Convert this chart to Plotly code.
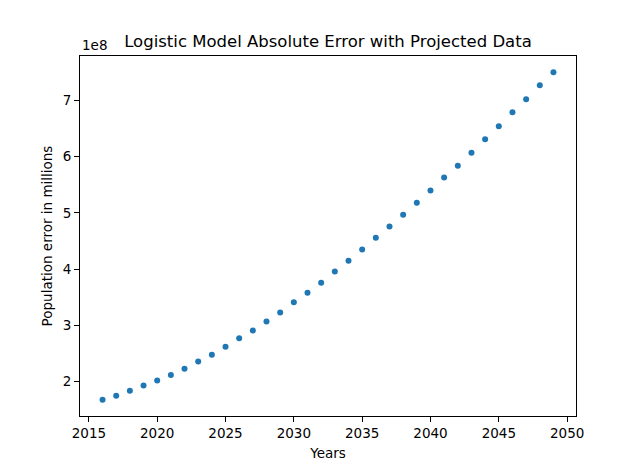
import plotly.graph_objects as go

years = list(range(2016, 2050))
abs_error = [1.68e8, 1.75e8, 1.84e8, 1.93e8, 2.02e8, 2.12e8, 2.23e8, 2.36e8, 2.48e8, 2.62e8,
             2.77e8, 2.91e8, 3.07e8, 3.23e8, 3.41e8, 3.58e8, 3.76e8, 3.96e8, 4.15e8, 4.35e8,
             4.56e8, 4.76e8, 4.97e8, 5.18e8, 5.40e8, 5.63e8, 5.84e8, 6.07e8, 6.31e8, 6.54e8,
             6.79e8, 7.02e8, 7.27e8, 7.50e8]
y_tick_vals = [2e8, 3e8, 4e8, 5e8, 6e8, 7e8]
y_tick_text = ["2", "3", "4", "5", "6", "7"]
x_tick_vals = [2015, 2020, 2025, 2030, 2035, 2040, 2045, 2050]

font = "DejaVu Sans"

fig = go.Figure(go.Scatter(
    x=years, y=abs_error, mode="markers",
    marker=dict(color="#1f77b4", size=6, line=dict(width=0)),
))

xr = [min(years) - 0.05 * (max(years) - min(years)), max(years) + 0.05 * (max(years) - min(years))]
span = max(abs_error) - min(abs_error)
yr = [min(abs_error) - 0.05 * span, max(abs_error) + 0.05 * span]

axis_common = dict(
    showgrid=False, zeroline=False, showline=True, linecolor="black", linewidth=1,
    mirror=True, ticks="outside", ticklen=5, tickwidth=1, tickcolor="black",
    tickfont=dict(family=font, size=13.5, color="black"),
)

fig.update_layout(
    width=640, height=468,
    margin=dict(l=72, r=72, t=48, b=60),
    paper_bgcolor="white", plot_bgcolor="white",
    showlegend=False,
    font=dict(family=font, color="black"),
    title=dict(text="Logistic Model Absolute Error with Projected Data",
               x=0.5, xanchor="center", y=1 - 39 / 468, yanchor="bottom",
               font=dict(family=font, size=16.5, color="black")),
    xaxis=dict(range=xr, tickvals=x_tick_vals,
               title=dict(text="Years", font=dict(family=font, size=13.5), standoff=8),
               **axis_common),
    yaxis=dict(range=yr, tickvals=y_tick_vals, ticktext=y_tick_text,
               title=dict(text="Population error in millions", font=dict(family=font, size=13.5), standoff=6),
               **axis_common),
    annotations=[dict(text="1e8", xref="paper", yref="paper", x=0, y=1, xanchor="left",
                      yanchor="bottom", yshift=1, showarrow=False,
                      font=dict(family=font, size=13.5, color="black"))],
)

fig.write_html("out.html")
